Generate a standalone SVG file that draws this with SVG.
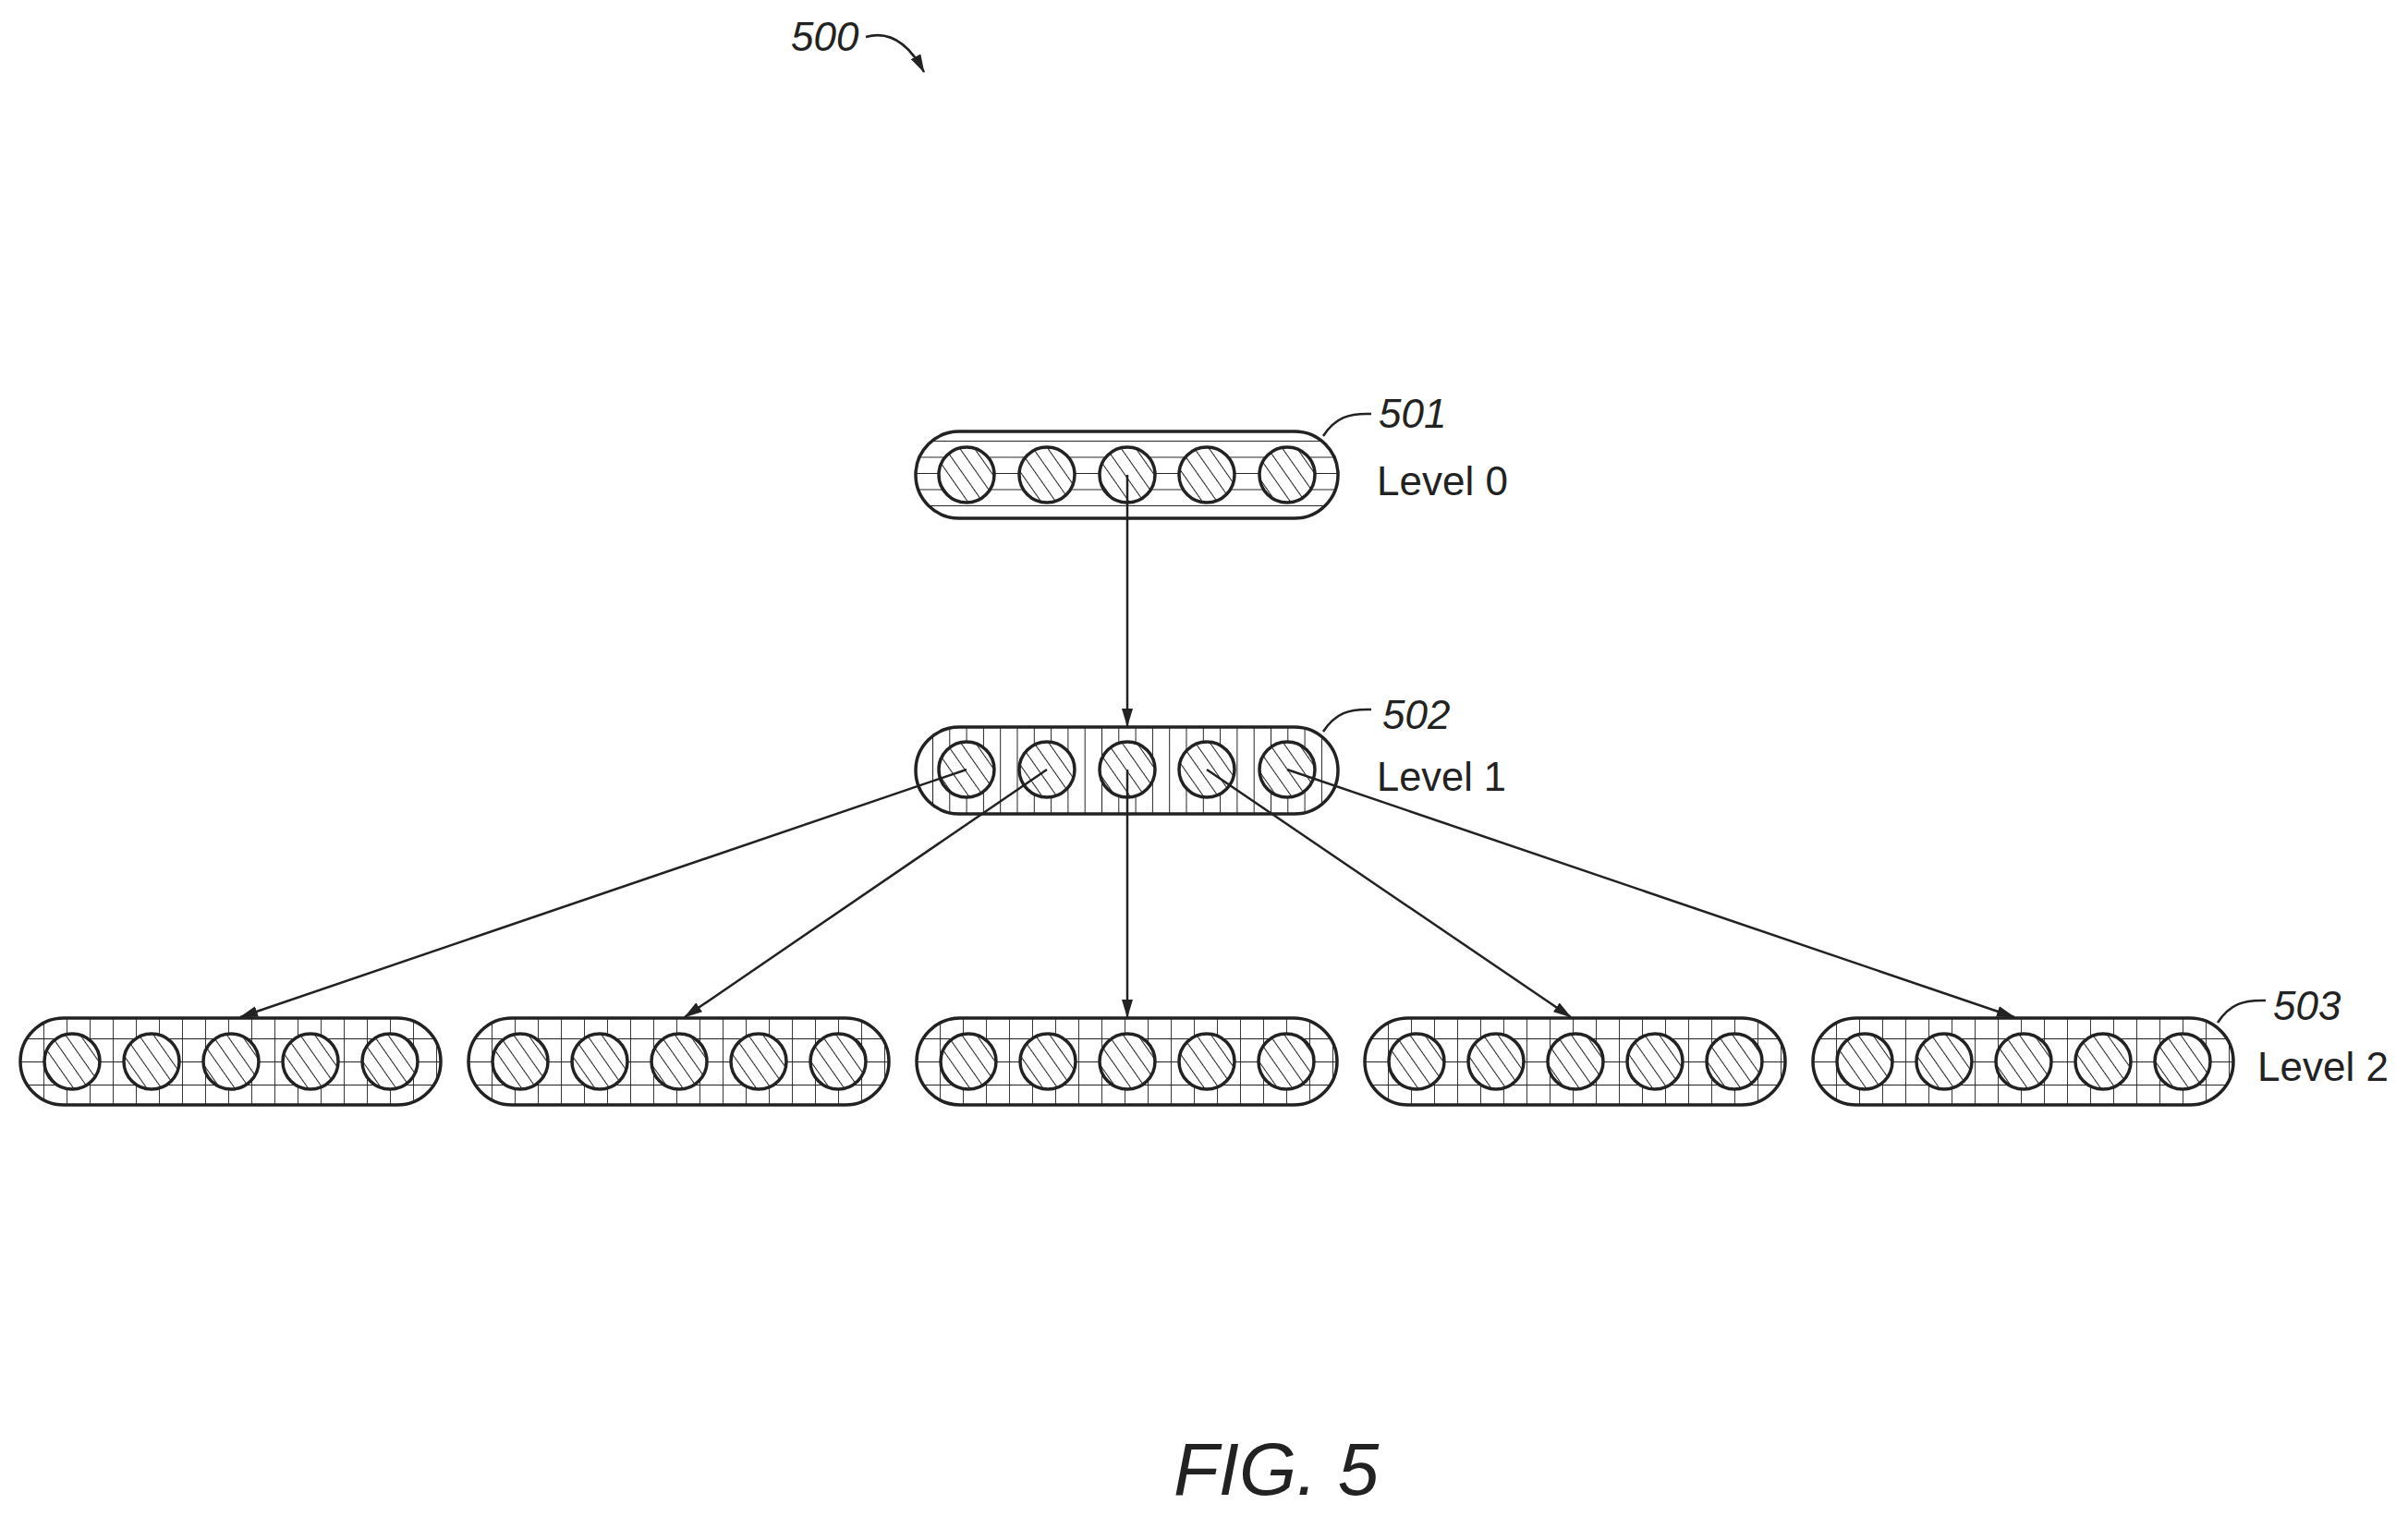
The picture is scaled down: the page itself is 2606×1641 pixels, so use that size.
<svg xmlns="http://www.w3.org/2000/svg" width="2606" height="1641" viewBox="0 0 2606 1641">
<style>
.b{stroke:#222;stroke-width:3.5;}
.c{fill:url(#hatch);stroke:#222;stroke-width:3.5;}
.t{font-family:"Liberation Sans",Arial,sans-serif;fill:#222;}
.n{font-style:italic;font-size:44px;}
.l{font-size:45px;}
.w{fill:none;stroke:#222;stroke-width:2.5;}
.a{fill:none;stroke:#222;stroke-width:2.5;marker-end:url(#ah);}
</style>
<defs>
<pattern id="hatch" width="13" height="13" patternUnits="userSpaceOnUse" patternTransform="rotate(-35)"><rect width="13" height="13" fill="#fff"/><line x1="0" y1="0" x2="0" y2="13" stroke="#222" stroke-width="2"/></pattern>
<pattern id="hz" width="20" height="17.5" patternUnits="userSpaceOnUse" y="477"><rect width="20" height="17.5" fill="#fff"/><line x1="0" y1="0" x2="20" y2="0" stroke="#222" stroke-width="2"/></pattern>
<pattern id="vt" width="18.3" height="20" patternUnits="userSpaceOnUse" x="1009"><rect width="18.3" height="20" fill="#fff"/><line x1="0" y1="0" x2="0" y2="20" stroke="#222" stroke-width="2"/></pattern>
<pattern id="gr" width="25" height="25" patternUnits="userSpaceOnUse" y="1124" x="-3"><rect width="25" height="25" fill="#fff"/><line x1="0" y1="0" x2="25" y2="0" stroke="#222" stroke-width="2"/><line x1="0" y1="0" x2="0" y2="25" stroke="#222" stroke-width="1.8"/></pattern>
<marker id="ah" viewBox="0 0 20 12" refX="19" refY="6" markerWidth="20" markerHeight="12" markerUnits="userSpaceOnUse" orient="auto"><path d="M0,0 L20,6 L0,12 Z" fill="#222"/></marker>
</defs>
<rect width="2606" height="1641" fill="#fff"/>
<g id="n501">
<rect class="b" x="991" y="467" width="457" height="94" rx="47" fill="url(#hz)"/>
<ellipse class="c" cx="1046" cy="514" rx="30" ry="30"/><ellipse class="c" cx="1133" cy="514" rx="30" ry="30"/><ellipse class="c" cx="1220" cy="514" rx="30" ry="30"/><ellipse class="c" cx="1306" cy="514" rx="30" ry="30"/><ellipse class="c" cx="1393" cy="514" rx="30" ry="30"/>
<path class="w" d="M1432,472 C1445,452 1460,447 1484,448"/>
<text class="t n" x="1492" y="463">501</text><text class="t l" x="1490" y="536" textLength="142" lengthAdjust="spacingAndGlyphs">Level 0</text>
</g>
<g id="n502">
<rect class="b" x="991" y="787" width="457" height="94" rx="47" fill="url(#vt)"/>
<ellipse class="c" cx="1046" cy="833" rx="30" ry="30"/><ellipse class="c" cx="1133" cy="833" rx="30" ry="30"/><ellipse class="c" cx="1220" cy="833" rx="30" ry="30"/><ellipse class="c" cx="1306" cy="833" rx="30" ry="30"/><ellipse class="c" cx="1393" cy="833" rx="30" ry="30"/>
<path class="w" d="M1432,792 C1445,772 1460,767 1484,768"/>
<text class="t n" x="1496" y="789">502</text><text class="t l" x="1490" y="856" textLength="140" lengthAdjust="spacingAndGlyphs">Level 1</text>
</g>
<g id="n503">
<g id="l2a"><rect class="b" x="22" y="1102" width="455" height="94" rx="47" fill="url(#gr)"/><ellipse class="c" cx="78" cy="1149" rx="30" ry="30"/><ellipse class="c" cx="164" cy="1149" rx="30" ry="30"/><ellipse class="c" cx="250" cy="1149" rx="30" ry="30"/><ellipse class="c" cx="336" cy="1149" rx="30" ry="30"/><ellipse class="c" cx="422" cy="1149" rx="30" ry="30"/></g>
<g id="l2b" transform="translate(485,0)"><rect class="b" x="22" y="1102" width="455" height="94" rx="47" fill="url(#gr)"/><ellipse class="c" cx="78" cy="1149" rx="30" ry="30"/><ellipse class="c" cx="164" cy="1149" rx="30" ry="30"/><ellipse class="c" cx="250" cy="1149" rx="30" ry="30"/><ellipse class="c" cx="336" cy="1149" rx="30" ry="30"/><ellipse class="c" cx="422" cy="1149" rx="30" ry="30"/></g>
<g id="l2c" transform="translate(970,0)"><rect class="b" x="22" y="1102" width="455" height="94" rx="47" fill="url(#gr)"/><ellipse class="c" cx="78" cy="1149" rx="30" ry="30"/><ellipse class="c" cx="164" cy="1149" rx="30" ry="30"/><ellipse class="c" cx="250" cy="1149" rx="30" ry="30"/><ellipse class="c" cx="336" cy="1149" rx="30" ry="30"/><ellipse class="c" cx="422" cy="1149" rx="30" ry="30"/></g>
<g id="l2d" transform="translate(1455,0)"><rect class="b" x="22" y="1102" width="455" height="94" rx="47" fill="url(#gr)"/><ellipse class="c" cx="78" cy="1149" rx="30" ry="30"/><ellipse class="c" cx="164" cy="1149" rx="30" ry="30"/><ellipse class="c" cx="250" cy="1149" rx="30" ry="30"/><ellipse class="c" cx="336" cy="1149" rx="30" ry="30"/><ellipse class="c" cx="422" cy="1149" rx="30" ry="30"/></g>
<g id="l2e" transform="translate(1940,0)"><rect class="b" x="22" y="1102" width="455" height="94" rx="47" fill="url(#gr)"/><ellipse class="c" cx="78" cy="1149" rx="30" ry="30"/><ellipse class="c" cx="164" cy="1149" rx="30" ry="30"/><ellipse class="c" cx="250" cy="1149" rx="30" ry="30"/><ellipse class="c" cx="336" cy="1149" rx="30" ry="30"/><ellipse class="c" cx="422" cy="1149" rx="30" ry="30"/></g>
<path class="w" d="M2400,1107 C2413,1087 2428,1082 2452,1083"/>
<text class="t n" x="2460" y="1104">503</text><text class="t l" x="2443" y="1170" textLength="142" lengthAdjust="spacingAndGlyphs">Level 2</text>
</g>
<g id="connectors">
<line class="a" x1="1220" y1="514" x2="1220" y2="786"/>
<line class="a" x1="1046" y1="833" x2="260" y2="1101"/>
<line class="a" x1="1133" y1="833" x2="741" y2="1101"/>
<line class="a" x1="1220" y1="833" x2="1220" y2="1101"/>
<line class="a" x1="1306" y1="833" x2="1700" y2="1101"/>
<line class="a" x1="1393" y1="833" x2="2180" y2="1101"/>
</g>
<g id="fig500">
<text class="t n" x="856" y="55">500</text>
<path class="a" d="M937,40 C965,32 985,50 1000,78"/>
</g>
<text class="t" x="1270" y="1618" font-size="80" font-style="italic">FIG. 5</text>
</svg>
